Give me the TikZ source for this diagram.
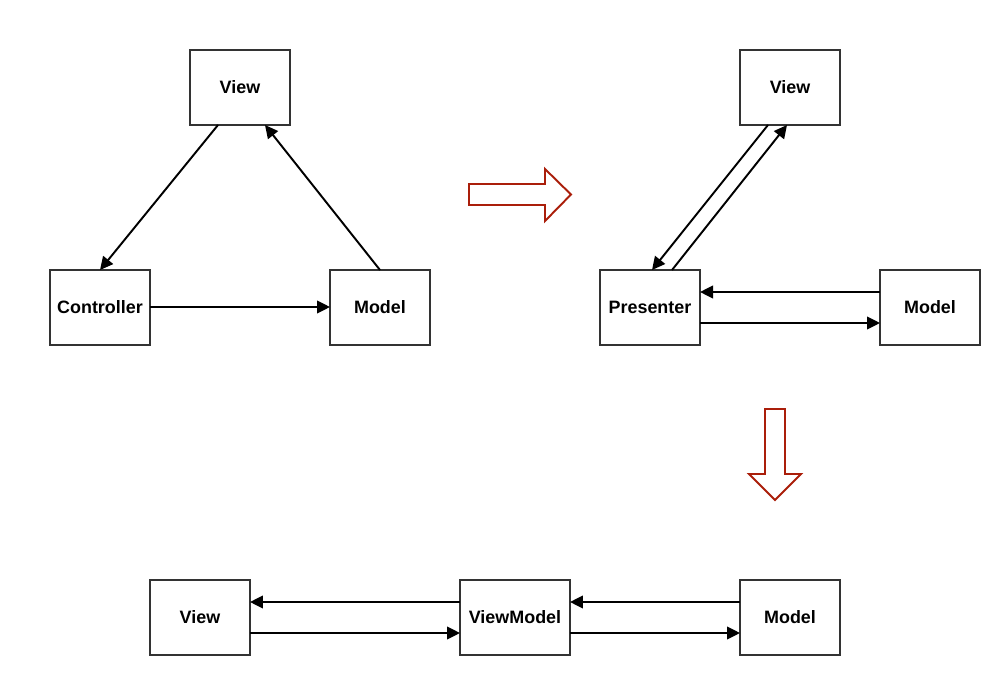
\documentclass[tikz,border=0pt]{standalone}
\usepackage{fontspec}
\setmainfont{Liberation Sans}
\usetikzlibrary{calc,arrows.meta}
\definecolor{arrowred}{RGB}{170,30,10}
\definecolor{boxgray}{RGB}{51,51,51}

\begin{document}
\begin{tikzpicture}[x=0.02cm, y=-0.02cm,
		box/.style={draw=boxgray, line width=1.1pt, fill=white, minimum width=2cm, minimum height=1.5cm, inner sep=0pt, outer sep=0pt, font=\fontsize{10.2}{12}\selectfont\bfseries},
		link/.style={line width=1.1pt, -{Triangle[length=7.4pt, width=7.2pt]}},
		bigarrow/.style={draw=arrowred, line width=1.1pt, fill=white, line join=miter}]
		%%%%% START %%%%%
		\useasboundingbox (0, 0) rectangle (1000, 675);
		
		% MVC
		\node[box] (mvcview) at (240, 87.5) {View};
		\node[box] (ctrl) at (100, 307.5) {Controller};
		\node[box] (mvcmodel) at (380, 307.5) {Model};
		
		\draw[link] ($(mvcview.south)+(-22, 0)$) -- (ctrl.north);
		\draw[link] (mvcmodel.north) -- ($(mvcview.south)+(25, 0)$);
		\draw[link] ($(ctrl.east)+(0, -0.5)$) -- ($(mvcmodel.west)+(0, -0.5)$);
		
		% right arrow
		\draw[bigarrow] (469, 184) -- (545, 184) -- (545, 169) -- (571, 194.5) -- (545, 221) -- (545, 205) -- (469, 205) -- cycle;
		
		% MVP
		\node[box] (mvpview) at (790, 87.5) {View};
		\node[box] (pres) at (650, 307.5) {Presenter};
		\node[box] (mvpmodel) at (930, 307.5) {Model};
		
		\draw[link] ($(mvpview.south)+(-22, 0)$) -- ($(pres.north)+(2, 0)$);
		\draw[link] ($(pres.north)+(22, 0)$) -- ($(mvpview.south)+(-3, 0)$);
		\draw[link] ($(mvpmodel.west)+(0, -15.5)$) -- ($(pres.east)+(0, -15.5)$);
		\draw[link] ($(pres.east)+(0, 15.5)$) -- ($(mvpmodel.west)+(0, 15.5)$);
		
		% down arrow
		\draw[bigarrow] (765, 409) -- (785, 409) -- (785, 474) -- (801, 474) -- (775, 500) -- (749, 474) -- (765, 474) -- cycle;
		
		% MVVM
		\node[box] (vmview) at (200, 617.5) {View};
		\node[box, minimum width=2.2cm] (vm) at (515, 617.5) {ViewModel};
		\node[box] (vmmodel) at (790, 617.5) {Model};
		
		\draw[link] ($(vm.west)+(0, -15.5)$) -- ($(vmview.east)+(0, -15.5)$);
		\draw[link] ($(vmview.east)+(0, 15.5)$) -- ($(vm.west)+(0, 15.5)$);
		\draw[link] ($(vmmodel.west)+(0, -15.5)$) -- ($(vm.east)+(0, -15.5)$);
		\draw[link] ($(vm.east)+(0, 15.5)$) -- ($(vmmodel.west)+(0, 15.5)$);
		%%%%% END %%%%%
\end{tikzpicture}
\end{document}
